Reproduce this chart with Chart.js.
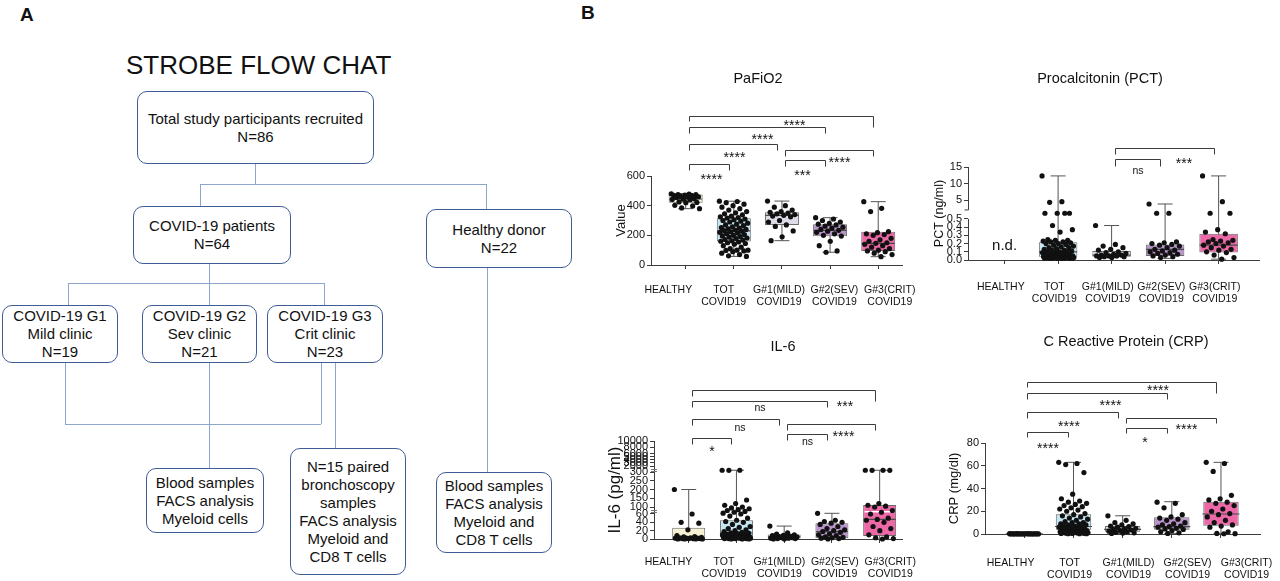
<!DOCTYPE html>
<html>
<head>
<meta charset="utf-8">
<title>STROBE flow chart and clinical parameters</title>
<script src="https://cdn.jsdelivr.net/npm/chart.js@4.4.1/dist/chart.umd.min.js"></script>
<style>
  body { margin: 0; background: #fff; font-family: "Liberation Sans", Arial, sans-serif; }
  #page { position: relative; width: 1280px; height: 581px; overflow: hidden; background: #fff; }
  .tag { position: absolute; font-weight: bold; font-size: 19px; line-height: 19px; color: #111; }
  .head { position: absolute; left: 126px; top: 52px; font-size: 26px; line-height: 26px; color: #111; white-space: nowrap; }
  .box { position: absolute; box-sizing: border-box; border: 1.4px solid #3f5d95; border-radius: 10px;
         display: flex; flex-direction: column; justify-content: center; align-items: center;
         font-size: 15px; line-height: 18px; color: #111; background: #fff; white-space: nowrap; }
  .ln { position: absolute; background: #8ea5cd; }
  canvas { position: absolute; }
</style>
</head>
<body>
<div id="page">
  <div class="tag" style="left:20px;top:5px">A</div>
  <div class="tag" style="left:581px;top:3px">B</div>
  <div class="head">STROBE FLOW CHAT</div>
  <div id="flow"></div>
  <canvas id="pafi" width="320" height="260" style="left:600px;top:60px"></canvas>
  <canvas id="pct" width="360" height="260" style="left:920px;top:60px"></canvas>
  <canvas id="il6" width="320" height="251" style="left:600px;top:330px"></canvas>
  <canvas id="crp" width="360" height="251" style="left:920px;top:330px"></canvas>
</div>
<script>
// ---- data ----
const groupLabels = [["HEALTHY"], ["TOT", "COVID19"], ["G#1(MILD)", "COVID19"], ["G#2(SEV)", "COVID19"], ["G#3(CRIT)", "COVID19"]];

// PaFiO2
const pafiHealthy = [480, 478, 475, 474, 472, 470, 468, 462, 460, 458, 455, 446, 444, 442, 440, 425, 422, 420, 402, 398, 385, 380];
const pafiTot = [430, 428, 420, 410, 400, 390, 380, 370, 360, 352, 345, 338, 330, 325, 320, 317, 310, 305, 300, 295, 290, 282, 275, 270, 265, 258, 252, 248, 243, 240, 236, 232, 228, 224, 220, 215, 210, 205, 200, 196, 192, 188, 182, 178, 172, 168, 163, 160, 155, 150, 145, 140, 130, 120, 110, 100, 100, 98, 95, 90, 80, 70, 62, 58];
const pafiMild = [431, 400, 390, 370, 360, 355, 350, 345, 340, 335, 330, 325, 300, 290, 270, 260, 230, 190, 164];
const pafiSev = [319, 310, 300, 290, 280, 275, 270, 262, 255, 248, 240, 234, 228, 220, 210, 200, 195, 160, 130, 95, 86];
const pafiCrit = [427, 382, 360, 225, 218, 210, 205, 200, 180, 170, 160, 150, 146, 140, 130, 120, 110, 100, 95, 90, 80, 70, 56];
const pafiMin = [380, 58, 164, 86, 56];
const pafiQ1 = [420, 158, 270, 193, 94];
const pafiMed = [445, 230, 335, 234, 146];
const pafiQ3 = [475, 315, 355, 274, 225];
const pafiMax = [482, 430, 431, 319, 427];
const pafiTicks = [0, 200, 400, 600];
const pafiSig = [[0, 1, "****"], [0, 2, "****"], [0, 3, "****"], [0, 4, "****"], [2, 3, "***"], [2, 4, "****"]];

// Procalcitonin (healthy not determined)
const pctTot = [12.3, 4.5, 4.3, 1.45, 1.45, 1.45, 1.45, 0.42, 0.37, 0.34, 0.25, 0.24, 0.24, 0.23, 0.22, 0.22, 0.21, 0.2, 0.2, 0.19, 0.18, 0.17, 0.16, 0.15, 0.15, 0.14, 0.13, 0.12, 0.12, 0.11, 0.1, 0.1, 0.1, 0.09, 0.09, 0.08, 0.08, 0.07, 0.07, 0.06, 0.06, 0.06, 0.05, 0.05, 0.05, 0.05, 0.04, 0.04, 0.04, 0.04, 0.03, 0.03, 0.03, 0.03, 0.03, 0.03, 0.02, 0.02, 0.02, 0.02, 0.02, 0.02, 0.02, 0.02];
const pctMild = [0.42, 0.19, 0.17, 0.15, 0.13, 0.12, 0.1, 0.09, 0.08, 0.07, 0.06, 0.06, 0.05, 0.05, 0.05, 0.04, 0.04, 0.03, 0.03];
const pctSev = [3.8, 1.45, 1.45, 0.22, 0.21, 0.2, 0.19, 0.18, 0.17, 0.15, 0.13, 0.12, 0.11, 0.1, 0.09, 0.08, 0.07, 0.06, 0.05, 0.04, 0.03];
const pctCrit = [12.3, 4.5, 1.45, 1.45, 0.37, 0.34, 0.32, 0.25, 0.24, 0.23, 0.22, 0.21, 0.2, 0.18, 0.17, 0.15, 0.13, 0.12, 0.1, 0.09, 0.06, 0.03, 0.01];
const pctMin = [null, 0.02, 0.03, 0.02, 0.01];
const pctQ1 = [null, 0.04, 0.04, 0.05, 0.09];
const pctMed = [null, 0.1, 0.06, 0.13, 0.18];
const pctQ3 = [null, 0.215, 0.11, 0.19, 0.32];
const pctMax = [null, 12.3, 0.42, 3.8, 12.3];
const pctTicks = [0, 0.1, 0.2, 0.3, 0.4, 0.5, 5, 10, 15];
const pctSig = [[2, 3, "ns"], [2, 4, "***"]];

// IL-6
const il6Healthy = [200, 60, 40, 38, 22, 8, 6, 5, 4, 3, 3, 2, 2, 2, 1, 1, 1, 1, 0, 0, 0, 0];
const il6Tot = [800, 790, 780, 140, 120, 110, 100, 95, 90, 85, 80, 75, 70, 65, 60, 55, 50, 45, 42, 40, 35, 30, 28, 25, 22, 20, 18, 16, 15, 14, 13, 12, 11, 10, 10, 9, 9, 8, 8, 7, 7, 6, 6, 5, 5, 5, 4, 4, 4, 3, 3, 3, 3, 2, 2, 2, 2, 1, 1, 1, 1, 0, 0, 0];
const il6Mild = [31, 15, 12, 10, 9, 8, 7, 6, 5, 5, 4, 3, 3, 2, 2, 1, 1, 0, 0];
const il6Sev = [64, 45, 42, 40, 38, 35, 30, 25, 22, 20, 18, 16, 12, 10, 8, 5, 4, 3, 2, 1, 0];
const il6Crit = [800, 790, 780, 770, 120, 110, 105, 100, 80, 70, 60, 50, 47, 45, 40, 30, 25, 20, 10, 5, 3, 1, 0];
const il6Min = [0, 0, 0, 0, 0];
const il6Q1 = [0, 4, 0, 2, 7];
const il6Med = [1, 15, 5, 17.6, 47];
const il6Q3 = [27, 45, 11, 38, 111];
const il6Max = [200, 800, 31, 64, 800];
const il6Mean = [null, 8, null, null, 73];
const il6Ticks = [0, 20, 40, 60, 100, 150, 200, 250, 300, 2000, 3000, 4000, 5000, 6000, 8000, 10000];
const il6Sig = [[0, 1, "*"], [0, 2, "ns"], [0, 3, "ns"], [0, 4, "***"], [2, 3, "ns"], [2, 4, "****"]];

// C Reactive Protein
const crpHealthy = [0.3, 0.3, 0.3, 0.2, 0.2, 0.2, 0.2, 0.2, 0.2, 0.2, 0.1, 0.1, 0.1, 0.1, 0.1, 0.1, 0.1, 0.1, 0.1, 0.1, 0.1, 0.1];
const crpTot = [63, 62, 61, 54, 35, 31, 29, 28, 27, 26, 25, 24, 23, 22, 21, 20, 18, 17, 16, 15, 14, 13, 12, 11, 10, 10, 9, 9, 8, 8, 7, 7, 6, 6, 6, 5, 5, 5, 4, 4, 4, 3, 3, 3, 3, 2, 2, 2, 2, 2, 1.5, 1.5, 1.5, 1, 1, 1, 1, 0.8, 0.6, 0.5, 0.5, 0.3, 0.3, 0.2];
const crpMild = [16, 12, 10, 9, 8, 7, 6.5, 6, 5, 4.5, 4, 3.5, 3, 2.5, 2, 1.5, 1, 0.8, 0.5];
const crpSev = [28, 27, 23, 17, 15, 14, 13, 12, 10, 9, 8, 7, 6.5, 6, 5, 4.5, 4, 3, 2, 1, 0.5];
const crpCrit = [63, 62, 55, 34, 31, 30, 28, 27, 25, 22, 20, 18, 17, 15, 12, 10, 8, 7, 6, 2, 0.5, 0.3, 0.2];
const crpMin = [0.1, 0.2, 0.5, 0.5, 0.2];
const crpQ1 = [0.1, 3.8, 2, 3.8, 7.3];
const crpMed = [0.1, 6.6, 4, 6.5, 17.6];
const crpQ3 = [0.2, 17.3, 7, 14.7, 28.4];
const crpMax = [0.3, 63, 16, 28.4, 63];
const crpTicks = [0, 20, 40, 60, 80];
const crpSig = [[0, 1, "****"], [0, 2, "****"], [0, 3, "****"], [0, 4, "****"], [2, 3, "*"], [2, 4, "****"]];

// ---- flow chart (panel A) ----
const flowBoxes = [
  [[137, 91, 374, 164], ["Total study participants recruited", "N=86"]],
  [[133, 206, 291, 264], ["COVID-19 patients", "N=64"]],
  [[426, 209, 572, 268], ["Healthy donor", "N=22"]],
  [[2, 305, 118, 363], ["COVID-19 G1", "Mild clinic", "N=19"]],
  [[142, 305, 257, 363], ["COVID-19 G2", "Sev clinic", "N=21"]],
  [[267, 305, 383, 363], ["COVID-19 G3", "Crit clinic", "N=23"]],
  [[146, 468, 264, 533], ["Blood samples", "FACS analysis", "Myeloid cells"]],
  [[290, 448, 406, 575], ["N=15 paired", "bronchoscopy", "samples", "FACS analysis", "Myeloid and", "CD8 T cells"]],
  [[436, 472, 552, 553], ["Blood samples", "FACS analysis", "Myeloid and", "CD8 T cells"]]
];
const flowLinks = [
  [255, 164, 255, 184], [200, 184, 486, 184], [200, 184, 200, 206], [486, 184, 486, 209],
  [209, 264, 209, 305], [68, 283, 324, 283], [68, 283, 68, 305], [324, 283, 324, 305],
  [65, 363, 65, 424], [65, 424, 321, 424], [321, 363, 321, 424],
  [209, 363, 209, 468], [335, 363, 335, 448], [487, 268, 487, 472]
];

const flow = document.getElementById('flow');
flowLinks.forEach(([x1, y1, x2, y2]) => {
  const d = document.createElement('div');
  d.className = 'ln';
  d.style.left = Math.min(x1, x2) + 'px';
  d.style.top = Math.min(y1, y2) + 'px';
  d.style.width = (Math.abs(x2 - x1) || 1) + 'px';
  d.style.height = (Math.abs(y2 - y1) || 1) + 'px';
  flow.appendChild(d);
});
flowBoxes.forEach(([r, lines]) => {
  const b = document.createElement('div');
  b.className = 'box';
  b.style.left = r[0] + 'px';
  b.style.top = r[1] + 'px';
  b.style.width = (r[2] - r[0]) + 'px';
  b.style.height = (r[3] - r[1]) + 'px';
  lines.forEach(t => {
    const s = document.createElement('div');
    s.textContent = t;
    b.appendChild(s);
  });
  flow.appendChild(b);
});

// ---- charts (panel B) ----
const FONT = '"Liberation Sans", Arial, sans-serif';
const INK = '#3c3c3c';
const boxColors = ["#f6f2d3", "#c4e6f3", "#dddce8", "#b994cb", "#ec68a7"];
Chart.defaults.font.family = FONT;
Chart.defaults.color = '#111';
Chart.defaults.animation = false;

// broken axes: value -> pixel height above zero
function pctY(v) {
  if (v <= 0.5) return v * 82;
  if (v <= 2) return 41 + (v - 0.5) * 6;
  return 50 + (v - 2) * 3.3;
}
function il6Y(v) {
  if (v <= 60) return v * 0.417;
  if (v <= 300) return 25 + (v - 60) * 0.175;
  if (v <= 2000) return 67 + (v - 300) * 6 / 1700;
  return 73 + (v - 2000) * 0.003125;
}
const same = v => v;

function decor(L, title, sig, extra) {
  return {
    id: 'decor',
    afterDraw(chart) {
      const ctx = chart.ctx, area = chart.chartArea, x = chart.scales.x;
      ctx.save();
      ctx.fillStyle = '#111';
      ctx.textAlign = 'center';
      ctx.textBaseline = 'middle';
      ctx.font = '14.5px ' + FONT;
      ctx.fillText(title, L.titleAt[0] - L.left, L.titleAt[1] - L.top);
      ctx.strokeStyle = INK;
      ctx.lineWidth = 1;
      sig.forEach(([a, b, label], k) => {
        const [dy, ly, legA, legB, dx] = L.sigPos[k];
        const x1 = Math.round(x.getPixelForValue(a) + 3) + 0.5;
        const x2 = Math.round(x.getPixelForValue(b) - 5) + 0.5;
        const y = Math.round(area.top + dy) + 0.5;
        ctx.beginPath();
        ctx.moveTo(x1, y + legA);
        ctx.lineTo(x1, y);
        ctx.lineTo(x2, y);
        ctx.lineTo(x2, y + legB);
        ctx.stroke();
        const star = label.includes('*');
        const size = star ? 14 : 10.5;
        ctx.font = size + 'px ' + FONT;
        ctx.textBaseline = 'alphabetic';
        ctx.fillText(label, (x1 + x2) / 2 + dx, area.top + ly + (star ? 0.58 : 0.27) * size);
      });
      if (extra) extra(chart, ctx);
      ctx.restore();
    }
  };
}

function boxPlot(L, title, groups, st, axis, sig, extra) {
  const m = axis.map;
  const points = [];
  groups.forEach((vals, g) => {
    (vals || []).forEach((v, k) => {
      const j = ((k * 0.618034) % 1) * 2 - 1;
      points.push({ x: g + j * 0.3, y: m(v) });
    });
  });
  const at = arr => [0, 1, 2, 3, 4].filter(g => arr[g] != null).map(g => ({ x: g, y: m(arr[g]) }));
  const idx = [0, 1, 2, 3, 4].filter(g => st.q1[g] != null);
  const datasets = [
    { type: 'scatter', data: points, pointRadius: 2.6, pointBackgroundColor: '#111', pointBorderWidth: 0, clip: false, order: 0 },
    { type: 'scatter', data: at(st.med), pointStyle: 'line', pointRadius: L.boxW / 2 - 0.5, pointBorderColor: '#4a4a4a', pointBorderWidth: 1.2, clip: false, order: 1 },
    { type: 'bar', data: idx.map(g => ({ x: g, y: [m(st.q1[g]), m(st.q3[g])] })), backgroundColor: idx.map(g => boxColors[g]),
      borderColor: '#6b6b6b', borderWidth: 1, borderSkipped: false, grouped: false, maxBarThickness: L.boxW, order: 2 },
    { type: 'bar', data: idx.map(g => ({ x: g, y: [m(st.min[g]), m(st.max[g])] })), backgroundColor: '#555', grouped: false, maxBarThickness: 1, order: 3 },
    { type: 'scatter', data: at(st.min).concat(at(st.max)), pointStyle: 'line', pointRadius: 7.5, pointBorderColor: '#555', pointBorderWidth: 1, clip: false, order: 3 }
  ];
  if (st.white) {
    datasets.push({ type: 'scatter', data: at(st.white), pointStyle: 'line', pointRadius: L.boxW / 2 - 1.5, pointBorderColor: '#fff', pointBorderWidth: 1.6, order: 0.5 });
  }
  // the group names sit on their own axis, spaced a little wider than the boxes
  const left = L.left + L.pad.left + L.yWidth, right = L.left + L.w - L.pad.right;
  return new Chart(document.getElementById(L.id), {
    type: 'bar',
    data: { datasets },
    options: {
      responsive: false,
      events: [],
      layout: { padding: L.pad },
      plugins: { legend: { display: false }, tooltip: { enabled: false } },
      scales: {
        x: {
          type: 'linear', min: L.xMin, max: L.xMax, offset: false, weight: 0,
          afterBuildTicks: s => { s.ticks = [0, 1, 2, 3, 4].map(v => ({ value: v })); },
          afterFit: s => { s.height = 4; s.paddingLeft = 0; s.paddingRight = 0; },
          grid: { offset: false, drawOnChartArea: false, drawTicks: true, tickLength: 4, color: INK },
          border: { display: true, color: INK },
          ticks: { display: false }
        },
        names: {
          type: 'linear', position: 'bottom', weight: 1, offset: false,
          min: (left - L.labStart) / L.labStep, max: (right - L.labStart) / L.labStep,
          afterBuildTicks: s => { s.ticks = [0, 1, 2, 3, 4].map(v => ({ value: v })); },
          afterFit: s => { s.height = L.labH; s.paddingLeft = 0; s.paddingRight = 0; },
          grid: { display: false, drawTicks: true, tickLength: L.xPad },
          border: { display: false },
          ticks: { autoSkip: false, maxRotation: 0, padding: 0, color: '#111',
                   font: { size: 10.5, lineHeight: 1.15 }, callback: (v, i) => groupLabels[i] }
        },
        y: {
          type: 'linear', min: 0, max: axis.max,
          afterBuildTicks: s => { s.ticks = axis.ticks.map(v => ({ value: m(v) })); },
          afterFit: s => { s.width = L.yWidth; },
          grid: { drawOnChartArea: false, drawTicks: true, tickLength: 4, color: INK },
          border: { display: axis.border !== false, color: INK },
          ticks: { autoSkip: false, padding: 2, color: '#111', font: { size: 11 }, callback: (v, i) => axis.labels[i] },
          title: { display: true, text: axis.title, color: '#111', font: { size: L.yTitleSize }, padding: { top: L.yTitlePad, bottom: 0 } }
        }
      }
    },
    plugins: [decor(L, title, sig, extra)]
  });
}

const layoutPafi = { id: 'pafi', left: 600, top: 60, w: 320, pad: { left: 10, right: 8, top: 116, bottom: 0 }, yWidth: 41, labH: 51,
  xMin: -0.72, xMax: 4.5, xPad: 15, labStart: 669, labStep: 57.5, boxW: 34, yTitleSize: 13, yTitlePad: 4, titleAt: [758, 79],
  sigPos: [[-12, 0, 6, 6, 2], [-32, -22, 6, 6, 1], [-49, -40, 6, 6, 5], [-60, -54, 5, 11, 13], [-16, -4, 6, 6, -3], [-26, -17, 6, 6, 10]] };
const layoutPct = { id: 'pct', left: 920, top: 60, w: 360, pad: { left: 8, right: 1, top: 107, bottom: 0 }, yWidth: 40, labH: 56,
  xMin: -0.684, xMax: 4.77, xPad: 17, labStart: 1003, labStep: 57, boxW: 39, yTitleSize: 12.5, yTitlePad: 4, titleAt: [1100, 79],
  sigPos: [[-8, 4, 7, 7, 0], [-19, -7, 6, 6, 19]] };
const layoutIl6 = { id: 'il6', left: 600, top: 330, w: 320, pad: { left: 3, right: 8, top: 111, bottom: 0 }, yWidth: 51, labH: 38,
  xMin: -0.727, xMax: 4.485, xPad: 13, labStart: 669, labStep: 57.5, boxW: 33, yTitleSize: 17, yTitlePad: 2, titleAt: [783, 347],
  sigPos: [[-3, 7, 6, 6, 0], [-22, -13, 6, 6, 4], [-40, -33, 6, 6, 0], [-51, -38, 6, 11, 61], [-7, 1, 6, 6, 0], [-17, -8, 6, 6, 12]] };
const layoutCrp = { id: 'crp', left: 920, top: 330, w: 360, pad: { left: 23, right: 15, top: 113, bottom: 0 }, yWidth: 42, labH: 43,
  xMin: -0.8, xMax: 4.8, xPad: 19, labStart: 1011, labStep: 60, boxW: 38, yTitleSize: 13, yTitlePad: 4, titleAt: [1126, 342],
  sigPos: [[-11, 2, 5, 5, 0], [-31, -20, 6, 6, -4], [-50, -41, 6, 6, 13], [-61, -56, 5, 11, 36], [-15, -4, 5, 5, -2], [-25, -17, 5, 5, 15]] };

boxPlot(layoutPafi, "PaFiO2", [pafiHealthy, pafiTot, pafiMild, pafiSev, pafiCrit],
  { min: pafiMin, q1: pafiQ1, med: pafiMed, q3: pafiQ3, max: pafiMax },
  { map: same, max: 600, ticks: pafiTicks, labels: pafiTicks.map(String), title: "Value" }, pafiSig);

boxPlot(layoutPct, "Procalcitonin (PCT)", [null, pctTot, pctMild, pctSev, pctCrit],
  { min: pctMin, q1: pctQ1, med: pctMed, q3: pctQ3, max: pctMax },
  { map: pctY, max: pctY(15), ticks: pctTicks, labels: pctTicks.map(v => v < 1 ? v.toFixed(1) : String(v)), title: "PCT (ng/ml)", border: false },
  pctSig,
  (chart, ctx) => {
    const y = chart.scales.y, x0 = Math.round(chart.chartArea.left) + 0.5;
    ctx.strokeStyle = INK;
    ctx.lineWidth = 1;
    ctx.beginPath();
    ctx.moveTo(x0, y.getPixelForValue(0));
    ctx.lineTo(x0, y.getPixelForValue(pctY(0.5)));
    ctx.moveTo(x0 - 4, y.getPixelForValue(pctY(2)));
    ctx.lineTo(x0, y.getPixelForValue(pctY(2)));
    ctx.lineTo(x0, y.getPixelForValue(pctY(15)));
    ctx.stroke();
    ctx.fillStyle = '#111';
    ctx.font = '15px ' + FONT;
    ctx.textAlign = 'center';
    ctx.textBaseline = 'middle';
    ctx.fillText('n.d.', chart.scales.x.getPixelForValue(0), y.getPixelForValue(pctY(0.17)));
  });

boxPlot(layoutIl6, "IL-6", [il6Healthy, il6Tot, il6Mild, il6Sev, il6Crit],
  { min: il6Min, q1: il6Q1, med: il6Med, q3: il6Q3, max: il6Max, white: il6Mean },
  { map: il6Y, max: il6Y(10000), ticks: il6Ticks, labels: il6Ticks.map(String), title: "IL-6 (pg/ml)" },
  il6Sig,
  (chart, ctx) => {
    const y = chart.scales.y, x0 = Math.round(chart.chartArea.left);
    ctx.strokeStyle = '#777';
    ctx.lineWidth = 1;
    [80, 1000].forEach(v => {
      const py = Math.round(y.getPixelForValue(il6Y(v)));
      ctx.beginPath();
      ctx.moveTo(x0 - 3, py - 0.5); ctx.lineTo(x0 + 3, py - 0.5);
      ctx.moveTo(x0 - 3, py + 1.5); ctx.lineTo(x0 + 3, py + 1.5);
      ctx.stroke();
    });
  });

boxPlot(layoutCrp, "C Reactive Protein (CRP)", [crpHealthy, crpTot, crpMild, crpSev, crpCrit],
  { min: crpMin, q1: crpQ1, med: crpMed, q3: crpQ3, max: crpMax },
  { map: same, max: 80, ticks: crpTicks, labels: crpTicks.map(String), title: "CRP (mg/dl)" }, crpSig);
</script>
</body>
</html>
